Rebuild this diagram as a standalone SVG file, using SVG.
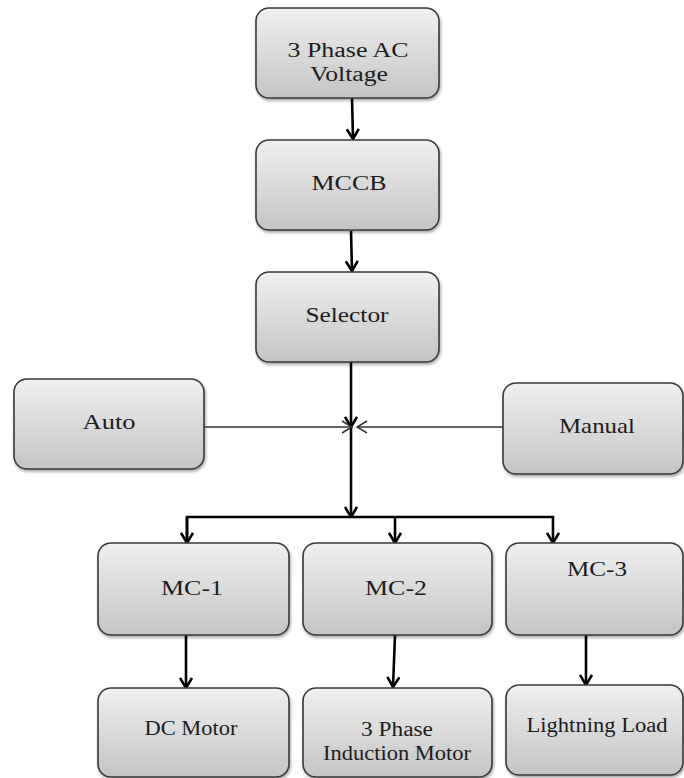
<svg xmlns="http://www.w3.org/2000/svg" width="684" height="778" viewBox="0 0 684 778">
<style>
.box{fill:url(#g);stroke:#3a3a3a;stroke-width:1.6;filter:url(#sh)}
.t{font-family:"Liberation Serif","Times New Roman",serif;font-size:22px;fill:#1c1c1c;text-anchor:middle}
.s{font-size:20px}
.c{fill:none;stroke:#000;stroke-width:2.6}
.thin{fill:none;stroke:#333;stroke-width:1.5}
</style>
<defs>
<linearGradient id="g" x1="0" y1="0" x2="0" y2="1">
<stop offset="0" stop-color="#f0f0f0"/>
<stop offset="1" stop-color="#c4c4c4"/>
</linearGradient>
<filter id="sh" x="-10%" y="-10%" width="120%" height="130%">
<feDropShadow dx="1" dy="2" stdDeviation="1.5" flood-color="#000" flood-opacity="0.35"/>
</filter>
<marker id="ah" viewBox="0 0 12 14" refX="11" refY="7" markerWidth="12" markerHeight="14" markerUnits="userSpaceOnUse" orient="auto">
<path d="M1,1 L11,7 L1,13" fill="none" stroke="#000" stroke-width="2.6"/>
</marker>
<marker id="at" viewBox="0 0 12 14" refX="11" refY="7" markerWidth="12" markerHeight="14" markerUnits="userSpaceOnUse" orient="auto">
<path d="M1,1 L11,7 L1,13" fill="none" stroke="#333" stroke-width="1.5"/>
</marker>
</defs>
<rect width="684" height="778" fill="#fff"/>
<g id="connectors">
<path class="c" d="M352,98 L353,139" marker-end="url(#ah)"/>
<path class="c" d="M351,231 L352,271" marker-end="url(#ah)"/>
<path class="c" d="M351,362 L351,427" marker-end="url(#ah)"/>
<path class="c" d="M351,427 L351,517" marker-end="url(#ah)"/>
<path class="thin" d="M204,427 L352,427" marker-end="url(#at)"/>
<path class="thin" d="M503,427 L357,427" marker-end="url(#at)"/>
<path class="c" d="M187,543 L187,517 L553,517 L553,543" marker-end="url(#ah)"/>
<path class="c" d="M187,517 L187,543" marker-end="url(#ah)"/>
<path class="c" d="M395,517 L395,543" marker-end="url(#ah)"/>
<path class="c" d="M186,635 L186,688" marker-end="url(#ah)"/>
<path class="c" d="M395,635 L393,687" marker-end="url(#ah)"/>
<path class="c" d="M586,635 L586,685" marker-end="url(#ah)"/>
</g>
<g id="ac">
<rect class="box" x="256" y="8" width="183" height="90" rx="13"/>
<text class="t s" x="348" y="57" textLength="121" lengthAdjust="spacingAndGlyphs">3 Phase AC</text>
<text class="t s" x="349" y="81" textLength="78" lengthAdjust="spacingAndGlyphs">Voltage</text>
</g>
<g id="mccb">
<rect class="box" x="256" y="140" width="183" height="90" rx="13"/>
<text class="t" x="349" y="190" textLength="75" lengthAdjust="spacingAndGlyphs">MCCB</text>
</g>
<g id="selector">
<rect class="box" x="256" y="272" width="183" height="90" rx="13"/>
<text class="t" x="347" y="322" textLength="83" lengthAdjust="spacingAndGlyphs">Selector</text>
</g>
<g id="auto">
<rect class="box" x="14" y="379" width="190" height="90" rx="13"/>
<text class="t" x="109" y="429" textLength="53" lengthAdjust="spacingAndGlyphs">Auto</text>
</g>
<g id="manual">
<rect class="box" x="503" y="383" width="180" height="91" rx="13"/>
<text class="t" x="597" y="433" textLength="76" lengthAdjust="spacingAndGlyphs">Manual</text>
</g>
<g id="mc1">
<rect class="box" x="98" y="543" width="191" height="92" rx="13"/>
<text class="t" x="192" y="595" textLength="62" lengthAdjust="spacingAndGlyphs">MC-1</text>
</g>
<g id="mc2">
<rect class="box" x="303" y="543" width="189" height="92" rx="13"/>
<text class="t" x="396" y="595" textLength="62" lengthAdjust="spacingAndGlyphs">MC-2</text>
</g>
<g id="mc3">
<rect class="box" x="506" y="543" width="177" height="92" rx="13"/>
<text class="t" x="597" y="576" textLength="60" lengthAdjust="spacingAndGlyphs">MC-3</text>
</g>
<g id="dcmotor">
<rect class="box" x="98" y="688" width="191" height="89" rx="13"/>
<text class="t s" x="191" y="735" textLength="93" lengthAdjust="spacingAndGlyphs">DC Motor</text>
</g>
<g id="induction">
<rect class="box" x="303" y="688" width="189" height="89" rx="13"/>
<text class="t s" x="397" y="736" textLength="72" lengthAdjust="spacingAndGlyphs">3 Phase</text>
<text class="t s" x="397" y="760" textLength="148" lengthAdjust="spacingAndGlyphs">Induction Motor</text>
</g>
<g id="lighting">
<rect class="box" x="506" y="685" width="177" height="90" rx="13"/>
<text class="t s" x="597" y="732" textLength="141" lengthAdjust="spacingAndGlyphs">Lightning Load</text>
</g>
</svg>
